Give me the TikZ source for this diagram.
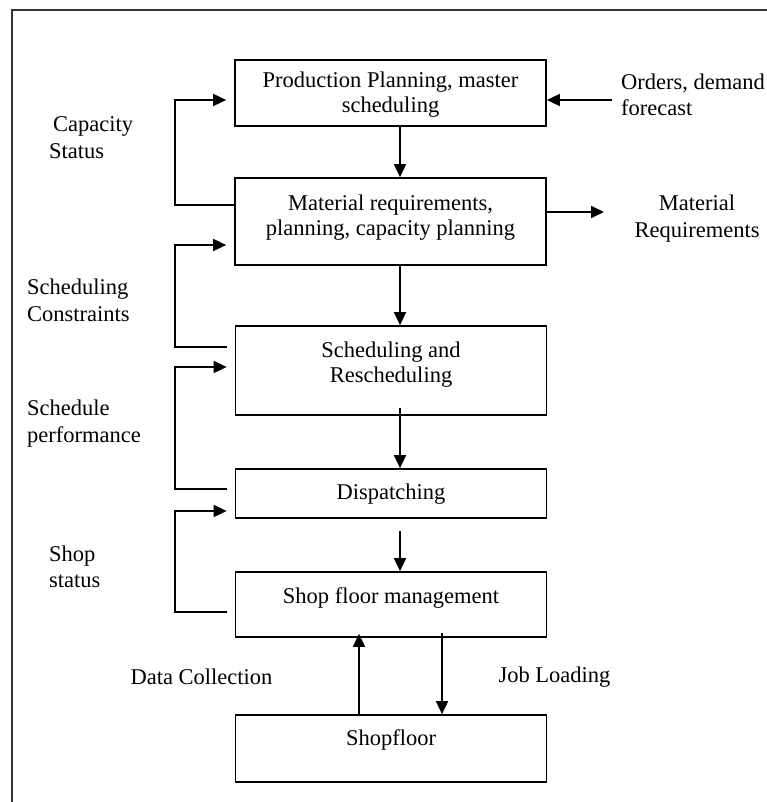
\documentclass[tikz,border=0pt]{standalone}
\usepackage{fontspec}
\setmainfont{Liberation Serif}
\usetikzlibrary{arrows.meta,calc}
\begin{document}
\begin{tikzpicture}[x=1pt,y=-1pt,
  font=\fontsize{22.5}{25}\selectfont,
  box/.style={draw,line width=1.7pt,minimum width=311pt,inner sep=0pt},
  arr/.style={line width=1.7pt,-{Triangle[length=13pt,width=12pt]}},
  lbl/.style={inner sep=0pt,align=left,anchor=west,font=\fontsize{22.5}{26.5}\selectfont},
  txt/.style={inner sep=0pt,align=center}]
\useasboundingbox (0,0) rectangle (767,802);
\draw[line width=1.2pt, black!80] (12,802) -- (12,10) -- (767,10);

% boxes
\node[box,minimum height=66pt] (b1) at (390.5,93) {};
\node[box,minimum height=87pt] (b2) at (390.5,221.5) {};
\node[box,minimum height=89pt] (b3) at (391,370.5) {};
\node[box,minimum height=49pt] (b4) at (391,493.5) {};
\node[box,minimum height=65pt] (b5) at (391,604.5) {};
\node[box,minimum height=67pt] (b6) at (391,748.5) {};

% box texts
\node[txt] (t1) at (390.5,95) {Production Planning, master\\scheduling};
\node[txt] (t2) at (390.5,217.5) {Material requirements,\\planning, capacity planning};
\node[txt] (t3) at (391,365) {Scheduling and\\Rescheduling};
\node[txt] (t4) at (391,494) {Dispatching};
\node[txt] (t5) at (391,598) {Shop floor management};
\node[txt] (t6) at (391,740) {Shopfloor};

% labels
\node[lbl] (l1) at (49,137.5) {\hspace*{4pt}Capacity\\Status};
\node[lbl] (l2) at (27,300.5) {Scheduling\\Constraints};
\node[lbl] (l3) at (27,423.5) {Schedule\\performance};
\node[lbl] (l4) at (49,567) {Shop\\status};
\node[lbl] (l5) at (621,95) {Orders, demand\\forecast};
\node[txt,font=\fontsize{22.5}{26.5}\selectfont] (l6) at (697,218.5) {Material\\Requirements};
\node[txt] (l7) at (201.5,677) {Data Collection};
\node[txt] (l8) at (554.5,677) {Job Loading};

% helper coordinates
\coordinate (lx) at (175,0);
\coordinate (vx) at (400,0);
\coordinate (jx) at (442,0);
\coordinate (dx) at (359,0);

% feedback loops on the left
\coordinate (s1) at ($(b2.west)+(0,-16.5)$);
\coordinate (e1) at ($(b1.west)+(0,7)$);
\draw[arr,shorten >=8pt] (s1) -- (s1 -| lx) |- (e1);
\coordinate (s2) at ($(b3.west)+(0,-23.5)$);
\coordinate (e2) at ($(b2.west)+(0,23.5)$);
\draw[arr,shorten <=8pt,shorten >=8pt] (s2) -- (s2 -| lx) |- (e2);
\coordinate (s3) at ($(b4.west)+(0,-4.5)$);
\coordinate (e3) at ($(b3.west)+(0,-3.5)$);
\draw[arr,shorten <=8pt,shorten >=8pt] (s3) -- (s3 -| lx) |- (e3);
\coordinate (s4) at ($(b5.west)+(0,7.5)$);
\coordinate (e4) at ($(b4.west)+(0,17.5)$);
\draw[arr,shorten <=8pt,shorten >=8pt] (s4) -- (s4 -| lx) |- (e4);

% right side
\coordinate (o1) at (612,100);
\draw[arr] (o1) -- (o1 -| b1.east);
\coordinate (m1) at ($(b2.east)+(0,-9.5)$);
\coordinate (m2) at (604,212);
\draw[arr] (m1) -- (m1 -| m2);

% main vertical flow
\draw[arr] (b1.south -| vx) -- (b2.north -| vx);
\draw[arr] (b2.south -| vx) -- (b3.north -| vx);
\draw[arr] ($(b3.south -| vx)+(0,-8)$) -- (b4.north -| vx);
\draw[arr] ($(b4.south -| vx)+(0,12)$) -- (b5.north -| vx);
\draw[arr] ($(b5.south -| jx)+(0,-5)$) -- (b6.north -| jx);
\draw[arr] (b6.north -| dx) -- ($(b5.south -| dx)+(0,-4)$);
\end{tikzpicture}
\end{document}
